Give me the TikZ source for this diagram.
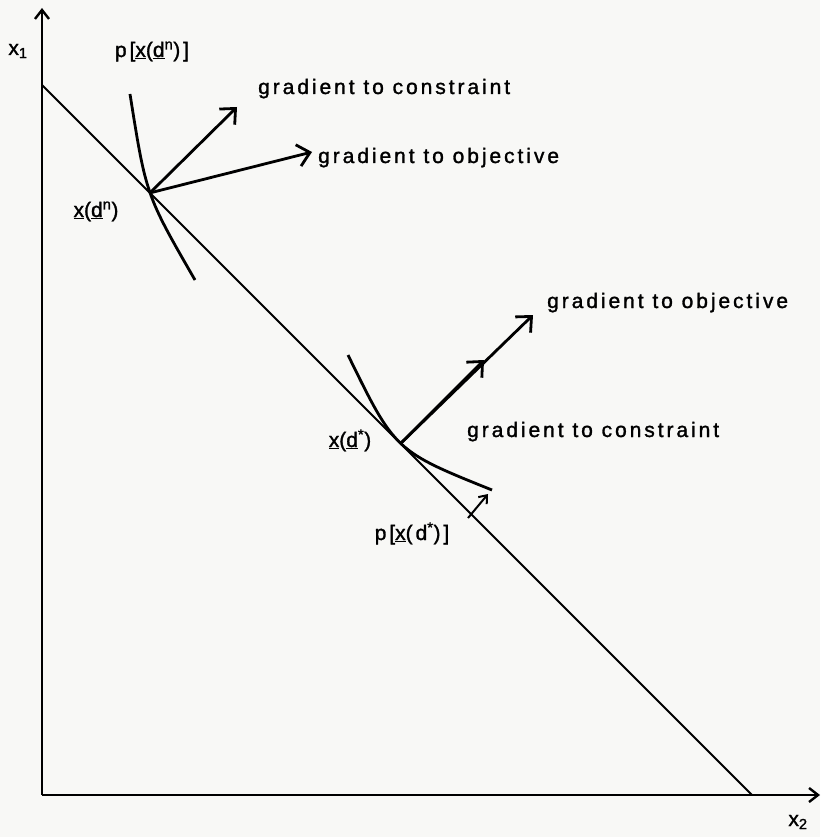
\documentclass[tikz,border=0pt]{standalone}
\usepackage{fontspec}
\setmainfont{Liberation Sans}[LetterSpace=14,FakeBold=1.4]
\usetikzlibrary{arrows.meta,calc}
\definecolor{paper}{RGB}{248,248,246}
\begin{document}
\begin{tikzpicture}[x=1pt,y=-1pt,
  font=\fontsize{21}{25}\selectfont,
  axis/.style={line width=2.4pt,-{Straight Barb[length=9pt,width=14pt,line width=2.4pt]}},
  cline/.style={line width=1.8pt},
  curve/.style={line width=2.8pt},
  grad/.style={line width=2.8pt,-{Straight Barb[length=12pt,width=22pt,line width=2.8pt]}},
  small/.style={line width=2pt,-{Straight Barb[length=7pt,width=11pt,line width=2pt]}},
  lbl/.style={inner sep=0pt,anchor=base west},
  clbl/.style={inner sep=0pt,anchor=base}]
\fill[paper] (0,0) rectangle (820,837);
\useasboundingbox (0,0) rectangle (820,837);
% axes
\coordinate (O) at (42,795);
\coordinate (Ytip) at (42,8);
\coordinate (Xtip) at (820,795);
\draw[axis] (O) -- (Ytip);
\draw[axis] (O) -- (Xtip);
% constraint line
\coordinate (A) at (42,85);
\coordinate (B) at (752,795);
\draw[cline] (A) -- (B);
\coordinate (Pn) at ($(A)!0.152!(B)$);
\coordinate (Ps) at ($(A)!0.505!(B)$);
% curves
\coordinate (U0) at (130,94);
\coordinate (U1) at (195,280);
\draw[curve] (U0) .. controls (146,195) .. (U1);
\coordinate (L0) at (348,355);
\coordinate (L1) at (492,490);
\draw[curve] (L0) .. controls (395,451) .. (L1);
% gradients
\coordinate (Cn) at (237,107);
\coordinate (On) at (312,152);
\draw[grad] (Pn) -- (Cn);
\draw[grad] (Pn) -- (On);
\coordinate (Cs) at (484,360);
\coordinate (Os) at (533,315);
\draw[grad] (Ps) -- (Os);
\draw[grad] (Ps) -- (Cs);
% small pointer
\coordinate (Lt) at (468,518);
\coordinate (Lh) at (488,494);
\draw[small] (Lt) -- (Lh);
% labels
\node[clbl] (x1) at (18,55) {x\textsubscript{1}};
\node[clbl] (x2) at (798,826) {x\textsubscript{2}};
\node[clbl] (pn) at (152,57) {p[\underline{x}(\underline{d}\textsuperscript{n})]};
\node[lbl] (gcn) at (258,94) {gradient to constraint};
\node[lbl] (gon) at (318,163) {gradient to objective};
\node[clbl] (xn) at (96,217) {\underline{x}(\underline{d}\textsuperscript{n})};
\node[lbl] (gos) at (547,308) {gradient to objective};
\node[lbl] (gcs) at (467,437) {gradient to constraint};
\node[clbl] (xs) at (350,447) {\underline{x}(\underline{d}\textsuperscript{*})};
\node[clbl] (ps) at (412,540) {p[\underline{x}(d\textsuperscript{*})]};
\end{tikzpicture}
\end{document}
